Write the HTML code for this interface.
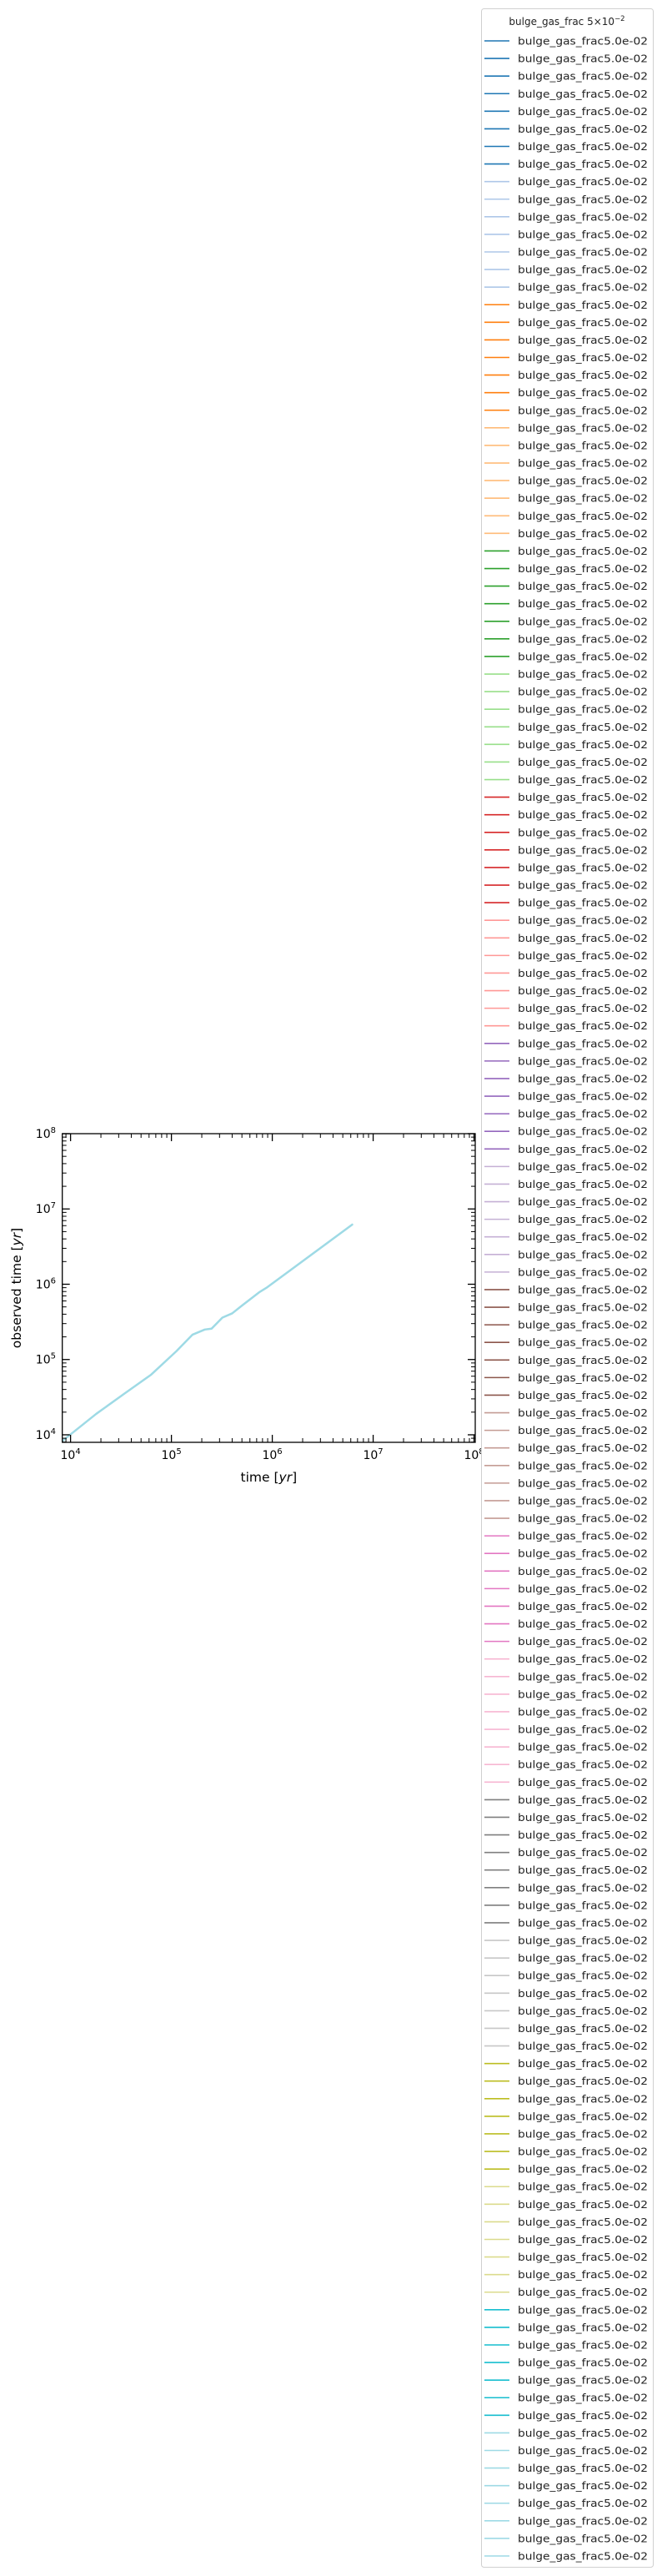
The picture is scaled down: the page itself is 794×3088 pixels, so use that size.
<!DOCTYPE html>
<html><head><meta charset="utf-8">
<style>
html,body{margin:0;padding:0;background:#fff;}
svg{display:block;font-family:"DejaVu Sans","Liberation Sans",sans-serif;}
</style></head>
<body>
<svg id="chart" width="794" height="3088" viewBox="0 0 794 3088" xmlns="http://www.w3.org/2000/svg">
  <g id="axes"></g>
  <g id="legend"></g>
</svg>
<script>
// ---- chart data ----
const timeYr = [8.3e3, 1.8e4, 3.5e4, 6.3e4, 1.12e5, 1.62e5, 2.14e5, 2.5e5, 3.2e5, 4.0e5, 5.0e5, 7.4e5, 8.9e5, 6.2e6];
const observedYr = [8.3e3, 1.9e4, 3.6e4, 6.3e4, 1.29e5, 2.14e5, 2.5e5, 2.57e5, 3.6e5, 4.1e5, 5.2e5, 7.8e5, 9.1e5, 6.2e6];
const xTickExps = [4, 5, 6, 7, 8];
const yTickExps = [4, 5, 6, 7, 8];
const legendColors = ['#1f77b4','#aec7e8','#ff7f0e','#ffbb78','#2ca02c','#98df8a','#d62728','#ff9896','#9467bd','#c5b0d5','#8c564b','#c49c94','#e377c2','#f7b6d2','#7f7f7f','#c7c7c7','#bcbd22','#dbdb8d','#17becf','#9edae5'];
const legendCounts = [8,7,7,7,7,7,7,7,7,7,7,7,7,8,8,7,7,7,7,8];
const legendLabel = 'bulge_gas_frac5.0e-02';

const NS = 'http://www.w3.org/2000/svg';
const L = 74.7, R = 570, T = 1359, B = 1729;
const XMIN = 3.918, XMAX = 8.012, YMIN = 3.9, YMAX = 8.0;
function xs(v){ return L + (Math.log10(v) - XMIN) / (XMAX - XMIN) * (R - L); }
function ys(v){ return B - (Math.log10(v) - YMIN) / (YMAX - YMIN) * (B - T); }
function mk(tag, attrs, parent){ const e = document.createElementNS(NS, tag); for (const k in attrs) e.setAttribute(k, attrs[k]); parent.appendChild(e); return e; }

const axes = document.getElementById('axes');
let d = '';
for (let i = 0; i < timeYr.length; i++) d += (i ? 'L' : 'M') + xs(timeYr[i]).toFixed(2) + ',' + ys(observedYr[i]).toFixed(2);
const clip = mk('clipPath', {id:'pc'}, axes);
mk('rect', {x:L, y:T, width:R-L, height:B-T}, clip);
const line = mk('path', {d:d, fill:'none', stroke:'#9edae5', 'stroke-width':2.5, 'clip-path':'url(#pc)', 'stroke-linejoin':'round', 'stroke-linecap':'round'}, axes);



const tg = mk('g', {stroke:'#000'}, axes);


for (let e = 3; e <= 8; e++) {
  for (let m = 1; m <= 9; m++) {
    const v = m * Math.pow(10, e);
    const lv = Math.log10(v);
    const major = m === 1;
    const len = major ? 9 : 5, w = major ? 1.3 : 1;
    if (lv >= XMIN && lv <= XMAX) {
      const x = xs(v);
      mk('line', {x1:x, y1:B, x2:x, y2:B-len, 'stroke-width':w}, tg);
      mk('line', {x1:x, y1:T, x2:x, y2:T+len, 'stroke-width':w}, tg);
    }
    if (lv >= YMIN && lv <= YMAX + 0.001) {
      const y = ys(v);
      mk('line', {x1:L, y1:y, x2:L+len, y2:y, 'stroke-width':w}, tg);
      mk('line', {x1:R, y1:y, x2:R-len, y2:y, 'stroke-width':w}, tg);
    }
  }
}
const frame = mk('rect', {x:L, y:T, width:R-L, height:B-T, fill:'none', stroke:'#000', 'stroke-width':1.3}, axes);



xTickExps.forEach(function(e){
  const t = mk('text', {x:xs(Math.pow(10,e)), y:1749, 'font-size':14, 'text-anchor':'middle', fill:'#000'}, axes);
  
  
  t.innerHTML = '10<tspan font-size="10" dy="-6">' + e + '</tspan>';
});
yTickExps.forEach(function(e){
  const t = mk('text', {x:67, y:ys(Math.pow(10,e)) + 5, 'font-size':14, 'text-anchor':'end', fill:'#000'}, axes);
  
  
  t.innerHTML = '10<tspan font-size="10" dy="-6">' + e + '</tspan>';
});
const xt = mk('text', {x:(L+R)/2, y:1776, 'font-size':15.5, 'text-anchor':'middle', fill:'#000'}, axes);


xt.innerHTML = 'time [<tspan font-style="italic">yr</tspan>]';
const yt = mk('text', {x:0, y:0, 'font-size':15.5, 'text-anchor':'middle', fill:'#000', transform:'translate(25,1544) rotate(-90)'}, axes);


yt.innerHTML = 'observed time [<tspan font-style="italic">yr</tspan>]';

const lg = document.getElementById('legend');
const box = mk('rect', {x:577.5, y:10.5, width:206, height:3067, rx:3, fill:'#fff', stroke:'#d0d0d0', 'stroke-width':1}, lg);


const title = mk('text', {x:680, y:30, 'font-size':12, 'text-anchor':'middle', fill:'#222'}, lg);


title.innerHTML = 'bulge_gas_frac 5×10<tspan font-size="8.5" dy="-5">−2</tspan>';
let idx = 0;
const N = legendCounts.reduce(function(a,b){return a+b;}, 0);
const step = (3064 - 49) / (N - 1);
legendCounts.forEach(function(cnt, ci){
  for (let k = 0; k < cnt; k++) {
    const y = 49 + idx * step;
    const g = mk('g', {}, lg);
    
    
    mk('line', {x1:581, y1:y, x2:611, y2:y, stroke:legendColors[ci], 'stroke-width':1.6}, g);
    const t = mk('text', {x:621, y:y + 4.5, 'font-size':12, fill:'#222', textLength:156, lengthAdjust:'spacingAndGlyphs'}, g);
    t.textContent = legendLabel;
    idx++;
  }
});
</script>
</body></html>
